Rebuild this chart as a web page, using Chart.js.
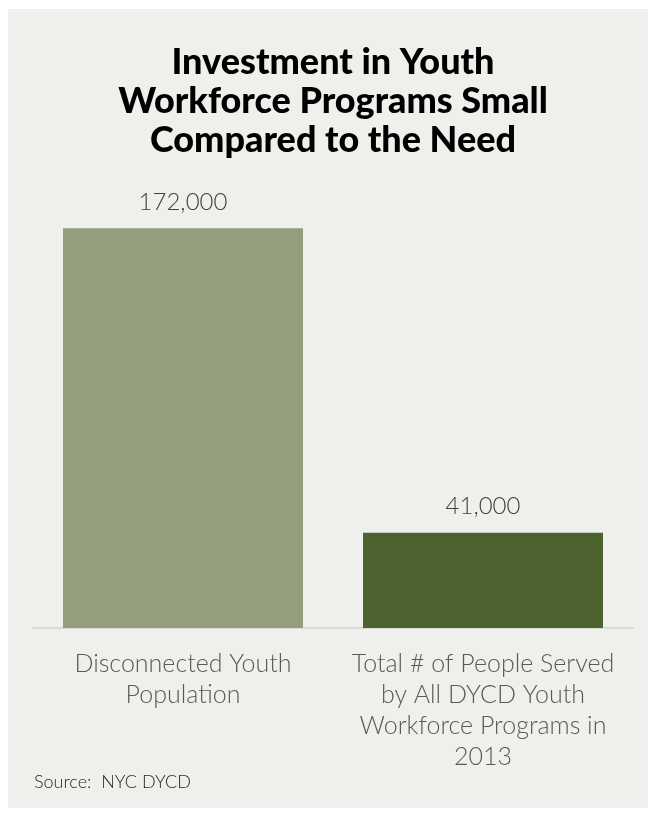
<!DOCTYPE html>
<html>
<head>
<meta charset="utf-8">
<script src="https://cdn.jsdelivr.net/npm/chart.js@4"></script>
<style>
  html, body { margin: 0; padding: 0; background: #ffffff; }
  #wrap { width: 655px; height: 815px; }
</style>
</head>
<body>
<div id="wrap"><canvas id="chart" width="655" height="815"></canvas></div>
<script>
const categories = [
  ["Disconnected Youth", "Population"],
  ["Total # of People Served", "by All DYCD Youth", "Workforce Programs in", "2013"]
];
const peopleCounts = [172000, 41000];
const barColors = ["#959e7c", "#4c632f"];
const titleLines = ["Investment in Youth", "Workforce Programs Small", "Compared to the Need"];
const sourceNote = "Source:  NYC DYCD";

// light grey panel behind everything
const panelBg = {
  id: "panelBg",
  beforeDraw(chart) {
    const ctx = chart.ctx;
    ctx.save();
    ctx.fillStyle = "#eff0ec";
    ctx.fillRect(8, 9, 640, 799);
    ctx.restore();
  }
};

// value labels above each bar + source line in the bottom corner
const valueLabels = {
  id: "valueLabels",
  afterDatasetsDraw(chart) {
    const ctx = chart.ctx;
    const meta = chart.getDatasetMeta(0);
    ctx.save();
    ctx.font = "300 24px Lato, 'Open Sans', sans-serif";
    ctx.fillStyle = "#404040";
    ctx.textAlign = "center";
    ctx.textBaseline = "middle";
    meta.data.forEach((bar, i) => {
      ctx.fillText(peopleCounts[i].toLocaleString("en-US"), bar.x, bar.y - 26);
    });
    ctx.font = "300 18px Lato, 'Open Sans', sans-serif";
    ctx.fillStyle = "#262626";
    ctx.textAlign = "left";
    ctx.fillText(sourceNote, 34, 782);
    ctx.restore();
  }
};

new Chart(document.getElementById("chart"), {
  type: "bar",
  data: {
    labels: categories,
    datasets: [{
      data: peopleCounts,
      backgroundColor: barColors,
      categoryPercentage: 1,
      barPercentage: 0.8
    }]
  },
  options: {
    responsive: false,
    animation: false,
    layout: { padding: { left: 33, right: 22, top: 0, bottom: 31 } },
    plugins: {
      legend: { display: false },
      tooltip: { enabled: false },
      title: {
        display: true,
        text: titleLines,
        color: "#000000",
        font: { family: "Lato, 'Open Sans', sans-serif", size: 36, weight: "900", lineHeight: 1.08 },
        padding: { top: 43, bottom: 50 }
      }
    },
    scales: {
      x: {
        grid: { display: false },
        border: { display: true, color: "#d9d9d9", width: 2 },
        ticks: {
          color: "#595959",
          padding: 12,
          maxRotation: 0,
          autoSkip: false,
          font: { family: "Lato, 'Open Sans', sans-serif", size: 25, weight: "300", lineHeight: 1.24 }
        }
      },
      y: {
        display: false,
        min: 0,
        max: 180000
      }
    }
  },
  plugins: [panelBg, valueLabels]
});
</script>
</body>
</html>
